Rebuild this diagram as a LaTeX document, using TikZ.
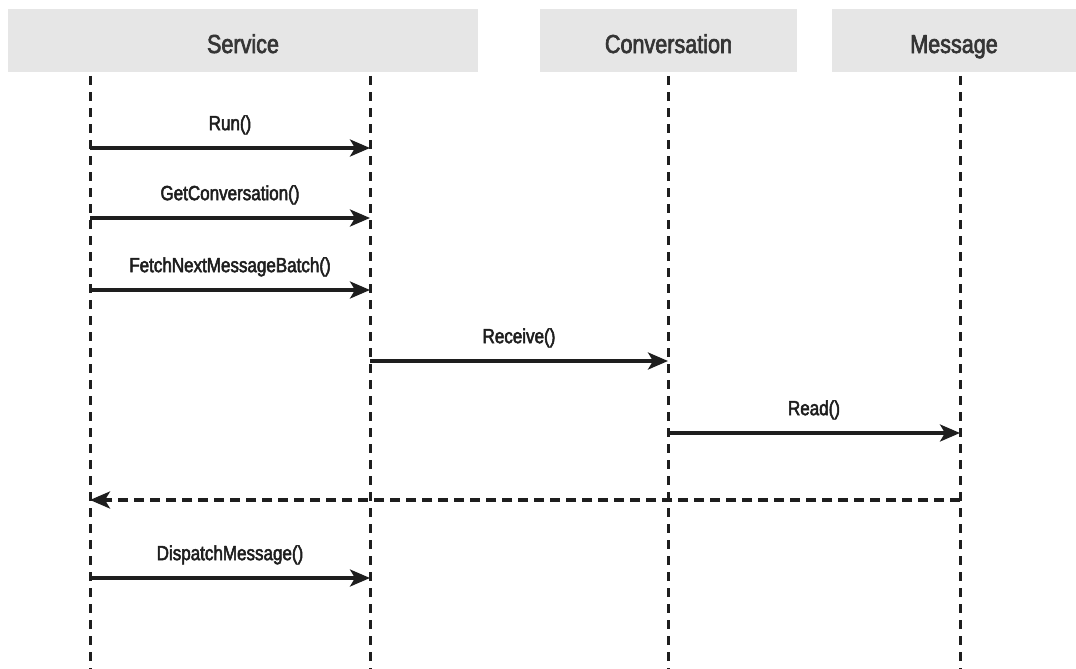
\documentclass[tikz,border=0pt]{standalone}
\usepackage{fontspec}
\setmainfont{Liberation Sans}[FakeStretch=0.83,FakeBold=2.5]
\usetikzlibrary{arrows.meta}
\definecolor{headgray}{HTML}{E6E6E6}
\definecolor{inkgray}{HTML}{1E1E1E}

\begin{document}
\begin{tikzpicture}[x=1pt,y=-1pt,
    head/.style={fill=headgray, minimum height=63pt, inner sep=0pt,
      text height=25pt, text depth=0pt,
      font=\fontsize{26}{30}\selectfont, text=inkgray!90},
    lifeline/.style={line width=3pt, dash pattern=on 9pt off 7pt, inkgray},
    call/.style={line width=3.2pt, inkgray, -{Stealth[length=20pt,width=17pt,inset=5pt]}},
    reply/.style={call, dash pattern=on 10pt off 6pt},
    msg/.style={midway, above=12pt, inner sep=0pt,
      font=\fontsize{20.5}{24}\selectfont, text=inkgray}]
    \useasboundingbox (0,0) rectangle (1076,669);

    % headers
    \node[head, minimum width=470pt] (service) at (243,40.5) {Service};
    \node[head, minimum width=257pt] (conversation) at (668.5,40.5) {Conversation};
    \node[head, minimum width=244pt] (message) at (954,40.5) {Message};

    % lifelines
    \coordinate (svcA-top) at (90,76);   \coordinate (svcA-end) at (90,669);
    \coordinate (svcB-top) at (370,76);  \coordinate (svcB-end) at (370,669);
    \coordinate (conv-top) at (668,76);  \coordinate (conv-end) at (668,669);
    \coordinate (msg-top) at (960,76);   \coordinate (msg-end) at (960,669);
    \draw[lifeline] (svcA-top) -- (svcA-end);
    \draw[lifeline] (svcB-top) -- (svcB-end);
    \draw[lifeline] (conv-top) -- (conv-end);
    \draw[lifeline] (msg-top) -- (msg-end);

    % calls
    \coordinate (run-a) at (90,148);       \coordinate (run-b) at (370,148);
    \coordinate (getconv-a) at (90,218);   \coordinate (getconv-b) at (370,218);
    \coordinate (fetch-a) at (90,290);     \coordinate (fetch-b) at (370,290);
    \coordinate (receive-a) at (370,361);  \coordinate (receive-b) at (668,361);
    \coordinate (read-a) at (668,433);     \coordinate (read-b) at (960,433);
    \coordinate (back-a) at (960,500);     \coordinate (back-b) at (90,500);
    \coordinate (dispatch-a) at (90,578);  \coordinate (dispatch-b) at (370,578);

    \draw[call] (run-a) -- node[msg] {Run()} (run-b);
    \draw[call] (getconv-a) -- node[msg] {GetConversation()} (getconv-b);
    \draw[call] (fetch-a) -- node[msg] {FetchNextMessageBatch()} (fetch-b);
    \draw[call] (receive-a) -- node[msg] {Receive()} (receive-b);
    \draw[call] (read-a) -- node[msg] {Read()} (read-b);
    \draw[reply] (back-a) -- (back-b);
    \draw[call] (dispatch-a) -- node[msg] {DispatchMessage()} (dispatch-b);
  \end{tikzpicture}
\end{document}
